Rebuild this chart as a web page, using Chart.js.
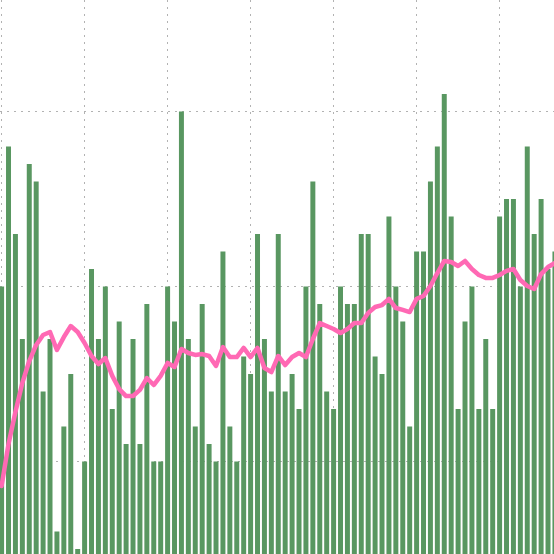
<!DOCTYPE html>
<html>
<head>
<meta charset="utf-8">
<script src="https://cdn.jsdelivr.net/npm/chart.js@4/dist/chart.umd.min.js"></script>
<style>
  html, body { margin: 0; padding: 0; background: #ffffff; }
  #wrap { width: 554px; height: 554px; position: relative; }
</style>
</head>
<body>
<div id="wrap"><canvas id="c" width="554" height="554"></canvas></div>
<script>
// ---- data ----
const barValues = [
  20, 28, 23, 17, 27, 26, 14, 17, 6, 12,
  15, 5, 10, 21, 17, 20, 13, 18, 11, 17,
  11, 19, 10, 10, 20, 18, 30, 17, 12, 19,
  11, 10, 22, 12, 10, 16, 15, 23, 17, 14,
  23, 14, 15, 13, 20, 26, 19, 14, 13, 20,
  19, 19, 23, 23, 16, 15, 24, 20, 18, 12,
  22, 22, 26, 28, 31, 24, 13, 18, 20, 13,
  17, 13, 24, 25, 25, 20, 28, 23, 25, 21,
  22
];
const lineValues = [
  8.60, 11.00, 12.83, 14.49, 15.74, 16.66, 17.23, 17.40, 16.37, 17.11,
  17.74, 17.40, 16.77, 16.03, 15.57, 15.91, 14.89, 14.14, 13.74, 13.74,
  14.09, 14.77, 14.37, 14.89, 15.63, 15.40, 16.43, 16.20, 16.09, 16.14,
  16.03, 15.46, 16.54, 15.97, 15.97, 16.49, 15.97, 16.49, 15.34, 15.11,
  16.03, 15.51, 15.97, 16.20, 15.97, 17.00, 17.91, 17.74, 17.57, 17.34,
  17.57, 17.91, 17.91, 18.49, 18.83, 18.94, 19.29, 18.77, 18.66, 18.54,
  19.29, 19.46, 20.03, 20.77, 21.46, 21.40, 21.17, 21.46, 21.00, 20.66,
  20.49, 20.49, 20.66, 20.89, 21.00, 20.37, 20.03, 19.86, 20.71, 21.11,
  21.34
];
const periods = barValues.map((_, i) => i);        // category positions (period index)
const xGridTicks = [0, 12, 24, 36, 48, 60, 72];     // vertical grid every 12 periods
const yGridTicks = [10, 20, 30];                    // horizontal grid values

// visible window of the (cropped) chart
const xMin = -0.2313, xMax = 79.865;
const yMin = 4.714, yMax = 36.371;

const gridStyle = {
  display: true,
  drawTicks: false,
  offset: false,
  color: 'rgba(0,0,0,0.3)',
  lineWidth: 1
};

new Chart(document.getElementById('c'), {
  type: 'bar',
  data: {
    datasets: [
      {
        type: 'line',
        label: 'trend',
        data: periods.map((p, i) => ({ x: p, y: lineValues[i] })),
        borderColor: '#ff69b4',
        backgroundColor: '#ff69b4',
        borderWidth: 4.5,
        pointRadius: 0,
        tension: 0,
        borderJoinStyle: 'round',
        borderCapStyle: 'round',
        order: 0
      },
      {
        type: 'bar',
        label: 'count',
        data: periods.map((p, i) => ({ x: p, y: barValues[i] })),
        backgroundColor: 'rgb(89,151,97)',
        borderWidth: 0,
        categoryPercentage: 0.8,
        barPercentage: 0.9,
        order: 1
      }
    ]
  },
  options: {
    responsive: false,
    animation: false,
    layout: { padding: 0 },
    plugins: { legend: { display: false }, tooltip: { enabled: false } },
    scales: {
      x: {
        type: 'linear',
        min: xMin,
        max: xMax,
        offset: false,
        grid: Object.assign({}, gridStyle),
        border: { display: false, dash: [2, 5] },
        ticks: { display: false },
        afterBuildTicks: (s) => { s.ticks = xGridTicks.map(v => ({ value: v })); }
      },
      y: {
        type: 'linear',
        min: yMin,
        max: yMax,
        grid: Object.assign({}, gridStyle),
        border: { display: false, dash: [2, 5] },
        ticks: { display: false },
        afterBuildTicks: (s) => { s.ticks = yGridTicks.map(v => ({ value: v })); }
      }
    }
  }
});
</script>
</body>
</html>
